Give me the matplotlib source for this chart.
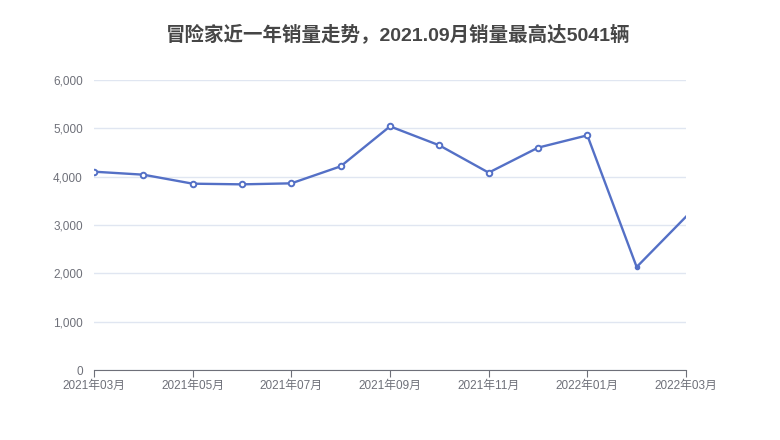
import matplotlib
matplotlib.use("Agg")
import matplotlib.pyplot as plt
from matplotlib.ticker import FuncFormatter

months = ["2021年03月", "2021年04月", "2021年05月", "2021年06月", "2021年07月", "2021年08月",
          "2021年09月", "2021年10月", "2021年11月", "2021年12月", "2022年01月", "2022年02月",
          "2022年03月"]
sales = [4103, 4041, 3855, 3841, 3862, 4214, 5041, 4648, 4083, 4600, 4855, 2131, 3172]
title = "冒险家近一年销量走势，2021.09月销量最高达5041辆"

plt.rcParams['font.family'] = ['Liberation Sans', 'Noto Sans CJK SC', 'DejaVu Sans']

fig = plt.figure(figsize=(7.8, 4.4), dpi=100)
ax = fig.add_axes([94/780, 70/440, 592/780, 290/440])

x = list(range(len(months)))
color = "#5470c6"
ax.plot(x, sales, color=color, lw=1.7, zorder=3)
ax.plot(x[:11], sales[:11], ls='none', marker='o', ms=4, mfc='white', mec=color, mew=1.4, zorder=4)
ax.plot(x[11:12], sales[11:12], ls='none', marker='o', ms=3, color=color, zorder=4)

ax.set_xlim(0, len(months) - 1)
ax.set_ylim(0, 6000)
ax.set_yticks([0, 1000, 2000, 3000, 4000, 5000, 6000])
ax.yaxis.set_major_formatter(FuncFormatter(lambda v, p: f"{int(v):,}"))
ax.set_xticks(x[::2])
ax.set_xticklabels(months[::2])

for s in ['top', 'right', 'left']:
    ax.spines[s].set_visible(False)
ax.spines['bottom'].set_color('#6E7079')
ax.grid(axis='y', color='#E0E6F1', lw=1)
ax.set_axisbelow(True)
ax.tick_params(axis='y', length=0, pad=8, labelsize=8.5, labelcolor='#6E7079')
ax.tick_params(axis='x', length=5, color='#6E7079', pad=2, labelsize=8.5, labelcolor='#6E7079')

fig.text(398/780, 1 - 34/440, title, ha='center', va='center', fontsize=14,
         fontweight='bold', color='#464646')

fig.savefig("out.png", dpi=100)
